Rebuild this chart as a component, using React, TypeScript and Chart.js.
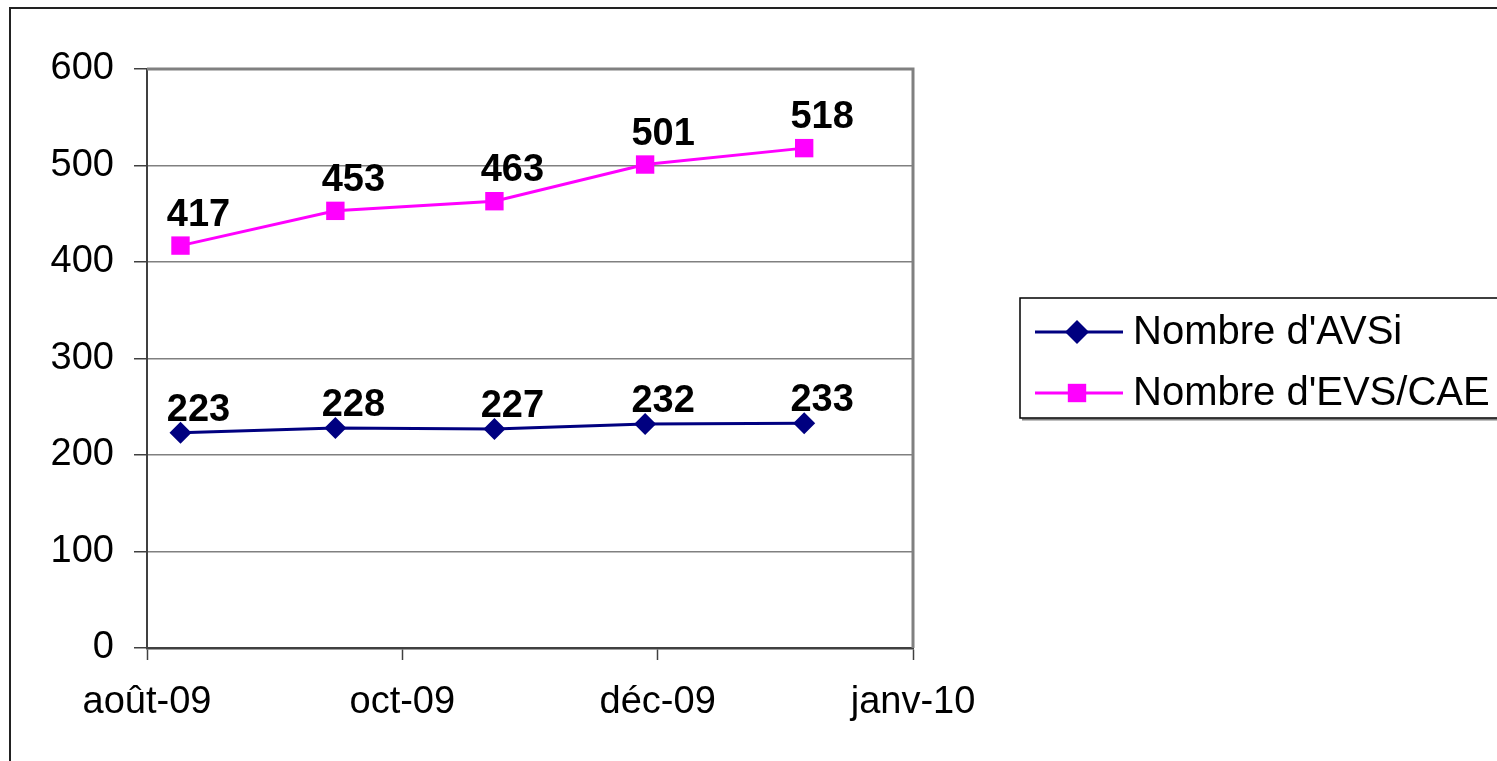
import React, { useEffect, useRef } from "react";
import { Chart, registerables } from "chart.js";
Chart.register(...registerables);

// ---- data ----
const origin = "2009-08-01";
const dates = ["2009-08-09", "2009-09-15", "2009-10-23", "2009-11-28", "2010-01-05"];
const avsi = [223, 228, 227, 232, 233];
const evs = [417, 453, 463, 501, 518];
const seriesNames = ["Nombre d'AVSi", "Nombre d'EVS/CAE"];
const xTickDates = ["2009-08-01", "2009-10-01", "2009-12-01", "2010-01-31"];
const xTickLabels = ["août-09", "oct-09", "déc-09", "janv-10"];
const yMin = 0;
const yMax = 600;
const yStep = 100;

const dayNum = (s: string) => (Date.parse(s) - Date.parse(origin)) / 86400000;

const FONT = "'Liberation Sans', Arial, sans-serif";
const NAVY = "#000080";
const PINK = "#FF00FF";

function drawMarker(ctx: CanvasRenderingContext2D, style: string, x: number, y: number, r: number, color: string) {
  ctx.save();
  ctx.fillStyle = color;
  ctx.beginPath();
  if (style === "rectRot") {
    ctx.moveTo(x - r, y);
    ctx.lineTo(x, y - r);
    ctx.lineTo(x + r, y);
    ctx.lineTo(x, y + r);
    ctx.closePath();
  } else {
    const s = r * Math.SQRT1_2;
    ctx.rect(x - s, y - s, 2 * s, 2 * s);
  }
  ctx.fill();
  ctx.restore();
}

const framePlugin = {
  id: "frame",
  beforeDraw(chart: any) {
    const ctx = chart.ctx;
    ctx.save();
    ctx.fillStyle = "#ffffff";
    ctx.fillRect(0, 0, chart.width, chart.height);
    ctx.strokeStyle = "#222222";
    ctx.lineWidth = 2;
    ctx.beginPath();
    ctx.moveTo(10, chart.height);
    ctx.lineTo(10, 8);
    ctx.lineTo(chart.width, 8);
    ctx.stroke();
    ctx.restore();
  },
  beforeDatasetsDraw(chart: any) {
    const { ctx, chartArea } = chart;
    ctx.save();
    ctx.strokeStyle = "#808080";
    ctx.lineWidth = 3;
    ctx.beginPath();
    ctx.moveTo(chartArea.left, chartArea.top);
    ctx.lineTo(chartArea.right, chartArea.top);
    ctx.lineTo(chartArea.right, chartArea.bottom);
    ctx.stroke();
    ctx.restore();
  },
  afterDatasetsDraw(chart: any) {
    const ctx = chart.ctx;
    ctx.save();
    ctx.font = `bold 38px ${FONT}`;
    ctx.fillStyle = "#000000";
    ctx.textAlign = "center";
    ctx.textBaseline = "alphabetic";
    chart.data.datasets.forEach((ds: any, di: number) => {
      const meta = chart.getDatasetMeta(di);
      const off = ds.labelOffset || 15;
      meta.data.forEach((el: any, i: number) => {
        const v = ds.data[i].y;
        ctx.fillText(String(v), el.x + 18, el.y - off);
      });
    });
    ctx.restore();
  },
  afterDraw(chart: any) {
    const ctx = chart.ctx;
    const bx = 1020, by = 298, bw = 500, bh = 120;
    ctx.save();
    ctx.fillStyle = "#ffffff";
    ctx.fillRect(bx, by, bw, bh);
    ctx.strokeStyle = "#808080";
    ctx.lineWidth = 2;
    ctx.beginPath();
    ctx.moveTo(bx + 2, by + bh + 1.5);
    ctx.lineTo(bx + bw, by + bh + 1.5);
    ctx.stroke();
    ctx.strokeStyle = "#000000";
    ctx.lineWidth = 1.5;
    ctx.strokeRect(bx, by, bw, bh);
    const rows = [332, 393];
    chart.data.datasets.forEach((ds: any, di: number) => {
      const y = rows[di];
      ctx.strokeStyle = ds.borderColor;
      ctx.lineWidth = 3;
      ctx.beginPath();
      ctx.moveTo(1035, y);
      ctx.lineTo(1123, y);
      ctx.stroke();
      drawMarker(ctx, ds.pointStyle, 1077, y, ds.pointStyle === "rectRot" ? 12 : 13, ds.pointBackgroundColor);
      ctx.fillStyle = "#000000";
      ctx.font = `40px ${FONT}`;
      ctx.textAlign = "left";
      ctx.textBaseline = "middle";
      ctx.fillText(ds.label, 1133, y + 1);
    });
    ctx.restore();
  },
};

export default function App() {
  const ref = useRef<HTMLCanvasElement | null>(null);
  useEffect(() => {
    if (!ref.current) return;
    const xs = dates.map(dayNum);
    const chart = new Chart(ref.current, {
      type: "line",
      data: {
        datasets: [
          {
            label: seriesNames[0],
            data: xs.map((x, i) => ({ x, y: avsi[i] })),
            borderColor: NAVY,
            backgroundColor: NAVY,
            pointBackgroundColor: NAVY,
            pointBorderColor: NAVY,
            pointStyle: "rectRot",
            pointRadius: 11,
            pointBorderWidth: 0,
            borderWidth: 3,
            labelOffset: 12,
          },
          {
            label: seriesNames[1],
            data: xs.map((x, i) => ({ x, y: evs[i] })),
            borderColor: PINK,
            backgroundColor: PINK,
            pointBackgroundColor: PINK,
            pointBorderColor: PINK,
            pointStyle: "rect",
            pointRadius: 13,
            pointBorderWidth: 0,
            borderWidth: 3,
            labelOffset: 20,
          },
        ],
      },
      options: {
        animation: false,
        responsive: false,
        devicePixelRatio: window.devicePixelRatio || 1,
        layout: { padding: { left: 0, top: 69, right: 584, bottom: 0 } },
        plugins: { legend: { display: false }, tooltip: { enabled: false } },
        scales: {
          x: {
            type: "linear",
            min: 0,
            max: dayNum(xTickDates[xTickDates.length - 1]),
            afterBuildTicks: (scale: any) => {
              scale.ticks = xTickDates.map((d) => ({ value: dayNum(d) }));
            },
            afterFit: (scale: any) => {
              scale.height = 113;
            },
            ticks: {
              autoSkip: false,
              maxRotation: 0,
              padding: 20,
              color: "#000000",
              font: { family: FONT, size: 38 },
              callback: (_v: any, i: number) => xTickLabels[i],
            },
            grid: {
              drawOnChartArea: false,
              drawTicks: true,
              tickLength: 12,
              tickColor: "#404040",
              tickWidth: 1.5,
            },
            border: { color: "#404040", width: 2.5 },
          },
          y: {
            min: yMin,
            max: yMax,
            afterFit: (scale: any) => {
              scale.width = 147;
            },
            ticks: {
              stepSize: yStep,
              padding: 20,
              color: "#000000",
              font: { family: FONT, size: 38 },
            },
            grid: {
              color: "#808080",
              lineWidth: 1.5,
              tickLength: 13,
              tickColor: "#404040",
              tickWidth: 1.5,
            },
            border: { color: "#404040", width: 2 },
          },
        },
      },
      plugins: [framePlugin],
    } as any);
    return () => chart.destroy();
  }, []);
  return (
    <div style={{ position: "absolute", left: 0, top: 0, width: 1497, height: 761 }}>
      <canvas ref={ref} width={1497} height={761} style={{ width: 1497, height: 761, display: "block" }} />
    </div>
  );
}
